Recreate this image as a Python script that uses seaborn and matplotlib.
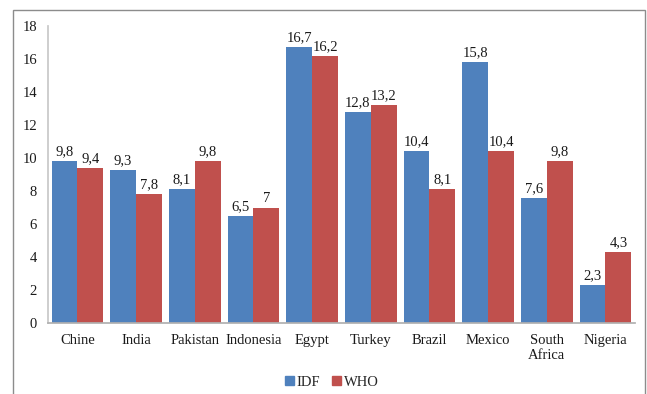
import matplotlib
matplotlib.use("Agg")
import matplotlib.pyplot as plt
import matplotlib.patches as mpatches
import seaborn as sns
import pandas as pd

countries = ["Chine", "India", "Pakistan", "Indonesia", "Egypt", "Turkey",
             "Brazil", "Mexico", "South\nAfrica", "Nigeria"]
idf = [9.8, 9.3, 8.1, 6.5, 16.7, 12.8, 10.4, 15.8, 7.6, 2.3]
who = [9.4, 7.8, 9.8, 7.0, 16.2, 13.2, 8.1, 10.4, 9.8, 4.3]
series = ["IDF", "WHO"]
colors = ["#4F81BD", "#C0504D"]

df = pd.DataFrame({
    "country": countries * 2,
    "value": idf + who,
    "source": [series[0]] * len(countries) + [series[1]] * len(countries),
})

sns.set_theme(style="white")
plt.rcParams["font.family"] = ["Liberation Serif", "DejaVu Serif"]

fs = 10.5
fig = plt.figure(figsize=(6.47, 3.94), dpi=100)
ax = fig.add_axes([0.0742, 0.180, 0.907, 0.754])

sns.barplot(data=df, x="country", y="value", hue="source", palette=colors,
            width=0.88, saturation=1, linewidth=0, ax=ax, legend=False)

def fmt(v):
    s = f"{v:.1f}".replace(".", ",")
    return s[:-2] if s.endswith(",0") else s

for cont, vals in zip(ax.containers, [idf, who]):
    ax.bar_label(cont, labels=[fmt(v) for v in vals], padding=2,
                 fontsize=fs, color="#1a1a1a")

ax.set_ylim(0, 18)
ax.set_yticks(range(0, 19, 2))
ax.set_xlim(-0.5, len(countries) - 0.5)
ax.set_xlabel("")
ax.set_ylabel("")
ax.tick_params(axis="both", labelsize=fs, colors="#1a1a1a", length=0)
ax.tick_params(axis="x", pad=8)
ax.tick_params(axis="y", pad=8)

for side in ["top", "right"]:
    ax.spines[side].set_visible(False)
ax.spines["left"].set_color("#c8c8c8")
ax.spines["bottom"].set_color("#b0b0b0")

handles = [mpatches.Patch(color=c, label=s) for c, s in zip(colors, series)]
fig.legend(handles=handles, loc="center", bbox_to_anchor=(0.513, 0.03),
           ncol=2, frameon=False, fontsize=fs, handlelength=0.6,
           handleheight=0.6, handletextpad=0.2, columnspacing=0.8)

# outer frame around the chart
frame = mpatches.Rectangle((13 / 647, -0.05), (645 - 13) / 647, 1.05 - 10 / 394,
                           transform=fig.transFigure, fill=False,
                           edgecolor="#8c8c8c", linewidth=1.0, clip_on=False)
fig.patches.append(frame)

fig.savefig("out.png", dpi=100)
